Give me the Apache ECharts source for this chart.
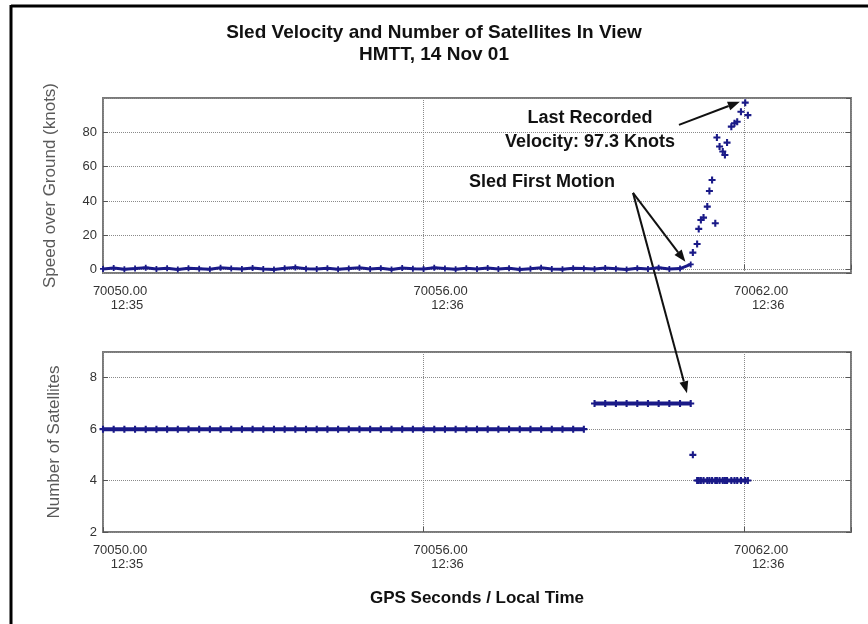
<!DOCTYPE html>
<html>
<head>
<meta charset="utf-8">
<title>Sled Velocity</title>
<script src="https://cdn.jsdelivr.net/npm/echarts@6/dist/echarts.min.js"></script>
<style>
  html, body { margin: 0; background: #fff; }
  #chart { width: 868px; height: 624px; }
</style>
</head>
<body>
<div id="chart"></div>
<script>
// GPS seconds while the sled sits still (sampled every 0.2 s)
var restTime = [
  70050.0, 70050.2, 70050.4, 70050.6, 70050.8, 70051.0, 70051.2, 70051.4, 70051.6, 70051.8,
  70052.0, 70052.2, 70052.4, 70052.6, 70052.8, 70053.0, 70053.2, 70053.4, 70053.6, 70053.8,
  70054.0, 70054.2, 70054.4, 70054.6, 70054.8, 70055.0, 70055.2, 70055.4, 70055.6, 70055.8,
  70056.0, 70056.2, 70056.4, 70056.6, 70056.8, 70057.0, 70057.2, 70057.4, 70057.6, 70057.8,
  70058.0, 70058.2, 70058.4, 70058.6, 70058.8, 70059.0, 70059.2, 70059.4, 70059.6, 70059.8,
  70060.0, 70060.2, 70060.4, 70060.6, 70060.8, 70061.0
];
var restSpeed = [
  0.4, 0.9, 0.2, 0.6, 1.1, 0.3, 0.7, 0.1, 0.8, 0.5,
  0.2, 1.0, 0.6, 0.3, 0.9, 0.4, 0.1, 0.7, 1.2, 0.5,
  0.3, 0.8, 0.2, 0.6, 1.0, 0.4, 0.7, 0.1, 0.9, 0.5,
  0.3, 1.1, 0.6, 0.2, 0.8, 0.4, 0.9, 0.3, 0.7, 0.1,
  0.5, 1.0, 0.4, 0.2, 0.8, 0.6, 0.3, 0.9, 0.5, 0.1,
  0.7, 0.4, 1.1, 0.3, 0.6, 3.0
];
var restSats = [
  6, 6, 6, 6, 6, 6, 6, 6, 6, 6,
  6, 6, 6, 6, 6, 6, 6, 6, 6, 6,
  6, 6, 6, 6, 6, 6, 6, 6, 6, 6,
  6, 6, 6, 6, 6, 6, 6, 6, 6, 6,
  6, 6, 6, 6, 6, 6, 7, 7, 7, 7,
  7, 7, 7, 7, 7, 7
];

// after first motion
var moveTime = [
  70061.04, 70061.12, 70061.15, 70061.19, 70061.24, 70061.31, 70061.35, 70061.40, 70061.46, 70061.49,
  70061.54, 70061.60, 70061.64, 70061.68, 70061.76, 70061.82, 70061.87, 70061.94, 70062.02, 70062.07
];
var moveSpeed = [
  9.9, 14.9, 23.7, 28.9, 30.3, 36.7, 45.8, 52.2, 27.0, 77.0,
  71.7, 68.8, 66.8, 74.0, 83.3, 85.3, 86.2, 92.0, 97.3, 90.0
];
var moveSats = [
  5, 4, 4, 4, 4, 4, 4, 4, 4, 4,
  4, 4, 4, 4, 4, 4, 4, 4, 4, 4
];

// x tick labels: GPS seconds + local time
var tickTime = [70050, 70056, 70062];
var tickClock = ['12:35', '12:36', '12:36'];

var navy = '#1a1a88';
var plus = 'path://M3.5,0L6.5,0L6.5,3.5L10,3.5L10,6.5L6.5,6.5L6.5,10L3.5,10L3.5,6.5L0,6.5L0,3.5L3.5,3.5Z';

function zip(a, b) {
  return a.map(function (v, i) { return [v, b[i]]; });
}

// break the satellite trace wherever the count changes
var allTime = restTime.concat(moveTime);
var allSats = restSats.concat(moveSats);
var satData = [];
for (var i = 0; i < allTime.length; i++) {
  if (i > 0 && allSats[i] !== allSats[i - 1]) satData.push([allTime[i], '-']);
  satData.push([allTime[i], allSats[i]]);
}

function tickLabel(v) {
  var k = tickTime.indexOf(Math.round(v));
  if (k < 0 || Math.abs(v - tickTime[k]) > 1e-6) return '';
  return '{a|' + v.toFixed(2) + '}\n{b|' + tickClock[k] + '}';
}

var xBase = {
  type: 'value', min: 70050, max: 70064, interval: 6,
  axisLine: { show: false },
  axisTick: { inside: true, length: 5, lineStyle: { color: '#555' } },
  axisLabel: {
    formatter: tickLabel, margin: 11, align: 'center', padding: [0, 0, 0, 34],
    color: '#333', fontFamily: 'Liberation Sans', fontSize: 13, lineHeight: 14,
    rich: { a: { fontSize: 13, lineHeight: 14 }, b: { fontSize: 13, lineHeight: 14, padding: [0, 0, 0, 14] } }
  },
  splitLine: { show: true, lineStyle: { color: '#8a8a8a', type: 'dotted', width: 1 } }
};

function yAxisOf(grid, min, max, name, gap, extra) {
  return Object.assign({
    type: 'value', gridIndex: grid, min: min, max: max,
    name: name, nameLocation: 'middle', nameGap: gap, nameRotate: 90,
    nameTextStyle: { color: '#5a5a5a', fontSize: 17, fontFamily: 'Liberation Sans' },
    axisLine: { show: false },
    axisTick: { inside: true, length: 5, lineStyle: { color: '#555' } },
    axisLabel: { color: '#333', fontSize: 13, margin: 6, fontFamily: 'Liberation Sans', showMinLabel: false, showMaxLabel: false },
    splitLine: { show: true, lineStyle: { color: '#8a8a8a', type: 'dotted', width: 1 } }
  }, extra || {});
}

function rightTicks(grid, min, max, extra) {
  return Object.assign({
    type: 'value', gridIndex: grid, min: min, max: max, position: 'right',
    axisLine: { show: false },
    axisTick: { inside: true, length: 5, lineStyle: { color: '#555' } },
    axisLabel: { show: false }, splitLine: { show: false }
  }, extra || {});
}

var chart = echarts.init(document.getElementById('chart'));

var option = {
  backgroundColor: '#fff',
  animation: false,
  title: {
    text: 'Sled Velocity and Number of Satellites In View\nHMTT, 14 Nov 01',
    left: 'center', top: 17,
    textStyle: { fontFamily: 'Liberation Sans', fontWeight: 'bold', fontSize: 19, lineHeight: 22, color: '#111' }
  },
  grid: [
    { left: 103, top: 98, width: 748, height: 175, show: true, borderColor: '#7a7a7a', borderWidth: 2 },
    { left: 103, top: 352, width: 748, height: 180, show: true, borderColor: '#7a7a7a', borderWidth: 2 }
  ],
  xAxis: [
    Object.assign({ gridIndex: 0 }, xBase),
    Object.assign({ gridIndex: 1 }, xBase, {
      name: 'GPS Seconds / Local Time', nameLocation: 'middle', nameGap: 58,
      nameTextStyle: { fontFamily: 'Liberation Sans', fontWeight: 'bold', fontSize: 17, color: '#111' }
    })
  ],
  yAxis: [
    yAxisOf(0, -2, 100, 'Speed over Ground (knots)', 44),
    yAxisOf(1, 2, 9, 'Number of Satellites', 40, {
      interval: 2,
      axisLabel: { color: '#333', fontSize: 13, margin: 6, fontFamily: 'Liberation Sans', showMinLabel: true, showMaxLabel: false }
    }),
    rightTicks(0, -2, 100),
    rightTicks(1, 2, 9, { interval: 2 })
  ],
  series: [
    {
      type: 'line', xAxisIndex: 0, yAxisIndex: 0, data: zip(restTime, restSpeed),
      symbol: plus, symbolSize: 6, showSymbol: true,
      lineStyle: { color: navy, width: 3 }, itemStyle: { color: navy }
    },
    {
      type: 'scatter', xAxisIndex: 0, yAxisIndex: 0, data: zip(moveTime, moveSpeed),
      symbol: plus, symbolSize: 7, itemStyle: { color: navy, opacity: 1 }
    },
    {
      type: 'line', xAxisIndex: 1, yAxisIndex: 1, data: satData, connectNulls: false,
      symbol: plus, symbolSize: 7, showSymbol: true,
      lineStyle: { color: navy, width: 4 }, itemStyle: { color: navy }
    }
  ]
};
chart.setOption(option);

// annotation arrows, anchored in data coordinates: [grid, from, to]
var arrows = [
  [0, [70060.78, 84.3], [70061.92, 97.8]],
  [0, [70059.92, 44.7], [70060.90, 4.5]],
  [[0, 1], [70059.92, 44.7], [70060.93, 7.4]]
];

function arrowShapes(p0, p1) {
  var dx = p1[0] - p0[0], dy = p1[1] - p0[1];
  var len = Math.sqrt(dx * dx + dy * dy), ux = dx / len, uy = dy / len;
  var h = 12, w = 4.5;
  var bx = p1[0] - ux * h, by = p1[1] - uy * h;
  return [
    { type: 'line', shape: { x1: p0[0], y1: p0[1], x2: bx, y2: by }, style: { stroke: '#111', lineWidth: 2 } },
    { type: 'polygon', shape: { points: [p1, [bx - uy * w, by + ux * w], [bx + uy * w, by - ux * w]] }, style: { fill: '#111' } }
  ];
}

var gfx = [
  // outer frame of the scanned figure
  { type: 'line', shape: { x1: 11, y1: 6, x2: 868, y2: 6 }, style: { stroke: '#000', lineWidth: 3 } },
  { type: 'line', shape: { x1: 11, y1: 5, x2: 11, y2: 624 }, style: { stroke: '#000', lineWidth: 3 } }
];
arrows.forEach(function (a) {
  var g0 = Array.isArray(a[0]) ? a[0][0] : a[0];
  var g1 = Array.isArray(a[0]) ? a[0][1] : a[0];
  var p0 = chart.convertToPixel({ gridIndex: g0 }, a[1]);
  var p1 = chart.convertToPixel({ gridIndex: g1 }, a[2]);
  gfx = gfx.concat(arrowShapes(p0, p1));
});

var noteFont = { fontFamily: 'Liberation Sans', fontWeight: 'bold', fontSize: 18, fill: '#111', textAlign: 'center', textVerticalAlign: 'middle' };
[['Last Recorded', 590, 118], ['Velocity: 97.3 Knots', 590, 142], ['Sled First Motion', 542, 182]].forEach(function (t) {
  gfx.push({ type: 'text', z: 100, style: Object.assign({ text: t[0], x: t[1], y: t[2] }, noteFont) });
});

chart.setOption({ graphic: gfx });
</script>
</body>
</html>
